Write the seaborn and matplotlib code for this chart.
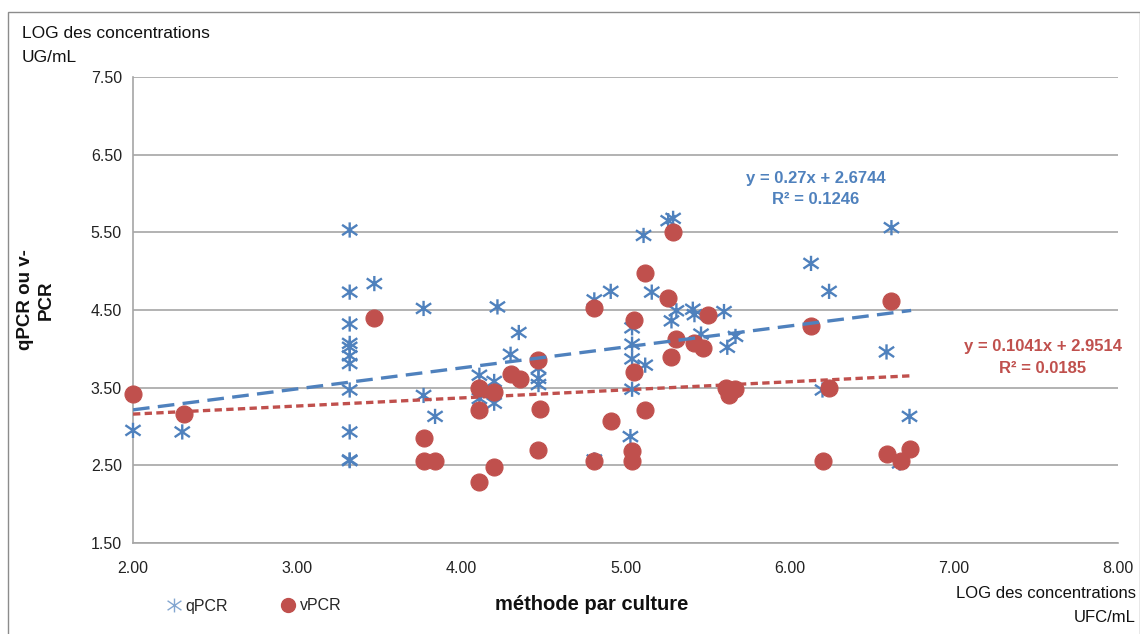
import matplotlib
matplotlib.use("Agg")
import matplotlib.pyplot as plt
import seaborn as sns
import pandas as pd
import numpy as np
from matplotlib.lines import Line2D
from matplotlib.patches import Rectangle
from matplotlib.path import Path

# ---- data ----
qpcr_x = [2.00, 2.30,
          3.32, 3.32, 3.32, 3.32, 3.32, 3.32, 3.32, 3.32, 3.32, 3.32, 3.32,
          3.47, 3.77, 3.77, 3.84, 4.11, 4.11, 4.20, 4.20, 4.22, 4.30, 4.35,
          4.47, 4.47, 4.47, 4.81, 4.81, 4.91, 5.04, 5.04, 5.04, 5.04, 5.03,
          5.12, 5.11, 5.26, 5.29, 5.16, 5.31, 5.28, 5.41, 5.42, 5.60, 5.46,
          5.62, 5.67, 6.62, 6.13, 6.24, 6.59, 6.20, 6.73, 6.67]
qpcr_y = [2.95, 2.93,
          5.53, 4.73, 4.32, 4.07, 4.02, 3.91, 3.81, 3.47, 2.93, 2.57, 2.56,
          4.84, 4.52, 3.40, 3.13, 3.66, 3.36, 3.58, 3.30, 4.54, 3.93, 4.21,
          3.75, 3.62, 3.54, 4.63, 2.57, 4.74, 4.27, 4.06, 3.87, 3.48, 2.87,
          3.79, 5.46, 5.65, 5.68, 4.73, 4.49, 4.36, 4.51, 4.44, 4.48, 4.19,
          4.02, 4.16, 5.56, 5.10, 4.74, 3.96, 3.47, 3.13, 2.53]

vpcr_x = [2.00, 2.31, 3.47, 3.77, 3.77, 3.84, 4.11, 4.11, 4.20, 4.30, 4.36,
          4.47, 4.48, 4.47, 4.11, 4.20, 4.81, 4.81, 4.91, 5.05, 5.05, 5.04,
          5.04, 5.12, 5.12, 5.29, 5.26, 5.31, 5.28, 5.50, 5.42, 5.47, 5.61,
          5.63, 5.67, 6.62, 6.13, 6.24, 6.20, 6.59, 6.68, 6.73]
vpcr_y = [3.42, 3.16, 4.40, 2.85, 2.56, 2.56, 3.50, 3.21, 3.44, 3.67, 3.61,
          3.85, 3.23, 2.70, 2.29, 2.48, 4.53, 2.56, 3.07, 4.37, 3.70, 2.68,
          2.56, 3.21, 4.97, 5.51, 4.66, 4.13, 3.89, 4.43, 4.07, 4.01, 3.50,
          3.41, 3.48, 4.62, 4.29, 3.50, 2.56, 2.65, 2.56, 2.71]

# trendline coefficients (slope, intercept) and x range
qpcr_fit = [0.27, 2.6744]
vpcr_fit = [0.1041, 2.9514]
fit_range = [2.00, 6.74]

x_ticks = [2.0, 3.0, 4.0, 5.0, 6.0, 7.0, 8.0]
y_ticks = [1.5, 2.5, 3.5, 4.5, 5.5, 6.5, 7.5]

BLUE = "#4F81BD"
RED = "#C0504D"
GRID = "#A6A6A6"

sns.set_style("white")
plt.rcParams["font.family"] = ["Liberation Sans", "DejaVu Sans"]

fig = plt.figure(figsize=(11.4, 6.34), dpi=100)
W, H = 1140, 634
ax = fig.add_axes([133 / W, 1 - 543 / H, (1118 - 133) / W, (543 - 77) / H])

# outer chart border
fig.patches.append(Rectangle((8 / W, 0 - 0.01), (W - 8) / W, 1 - 12 / H + 0.01,
                             transform=fig.transFigure, fill=False,
                             edgecolor="#8C8C8C", linewidth=1.0))

dq = pd.DataFrame({"x": qpcr_x, "y": qpcr_y})
dv = pd.DataFrame({"x": vpcr_x, "y": vpcr_y})

# Excel-like star: a wide X plus a vertical bar
dx, dy = 1.0, 0.68
star = Path([(-dx, -dy), (dx, dy), (-dx, dy), (dx, -dy), (0, -1), (0, 1)],
            [Path.MOVETO, Path.LINETO, Path.MOVETO, Path.LINETO,
             Path.MOVETO, Path.LINETO])

sns.scatterplot(data=dq, x="x", y="y", ax=ax, marker=star, s=120,
                color=BLUE, edgecolor=BLUE, facecolor="none", linewidth=1.7,
                zorder=3, legend=False)
sns.scatterplot(data=dv, x="x", y="y", ax=ax, marker="o", s=150,
                color=RED, edgecolor=RED, linewidth=0.8, zorder=4, legend=False)
for c in ax.collections:
    c.set_clip_on(False)

fx = np.array(fit_range)
sns.lineplot(x=fx, y=qpcr_fit[0] * fx + qpcr_fit[1], ax=ax, color=BLUE,
             linewidth=2.4, zorder=5, linestyle=(0, (5, 2.5)))
sns.lineplot(x=fx, y=vpcr_fit[0] * fx + vpcr_fit[1], ax=ax, color=RED,
             linewidth=2.4, zorder=5, linestyle=(0, (2.2, 1.3)))

ax.set_xlim(2.0, 8.0)
ax.set_ylim(1.5, 7.5)
ax.set_xticks(x_ticks)
ax.set_yticks(y_ticks)
ax.set_xticklabels([f"{v:.2f}" for v in x_ticks], fontsize=11.5)
ax.set_yticklabels([f"{v:.2f}" for v in y_ticks], fontsize=11.5)
ax.tick_params(axis="both", direction="out", length=5, width=1, color=GRID,
               labelcolor="#222222")
ax.tick_params(axis="x", pad=8)
ax.tick_params(axis="y", pad=3)
ax.yaxis.grid(True, color=GRID, linewidth=1.2)
ax.xaxis.grid(False)
ax.set_axisbelow(True)
for s in ["top", "right"]:
    ax.spines[s].set_visible(False)
for s in ["left", "bottom"]:
    ax.spines[s].set_color(GRID)
    ax.spines[s].set_linewidth(1.2)
ax.set_xlabel("")
ax.set_ylabel("")

# equations
ax.text(816 / W, 1 - 178 / H, "y = 0.27x + 2.6744", transform=fig.transFigure,
        color=BLUE, fontsize=12, fontweight="bold", ha="center", va="center")
ax.text(816 / W, 1 - 199 / H, "R² = 0.1246", transform=fig.transFigure,
        color=BLUE, fontsize=12, fontweight="bold", ha="center", va="center")
ax.text(1043 / W, 1 - 347 / H, "y = 0.1041x + 2.9514", transform=fig.transFigure,
        color=RED, fontsize=12, fontweight="bold", ha="center", va="center")
ax.text(1043 / W, 1 - 368 / H, "R² = 0.0185", transform=fig.transFigure,
        color=RED, fontsize=12, fontweight="bold", ha="center", va="center")

# axis titles
fig.text(22 / W, 1 - 33 / H, "LOG des concentrations", fontsize=12.5,
         ha="left", va="center", color="#111111")
fig.text(22 / W, 1 - 57 / H, "UG/mL", fontsize=12.5, ha="left", va="center",
         color="#111111")
fig.text(36 / W, 1 - 300 / H, "qPCR ou v-\nPCR", fontsize=13.5, fontweight="bold",
         rotation=90, ha="center", va="center", linespacing=1.3, color="#111111")
fig.text(592 / W, 1 - 605 / H, "méthode par culture", fontsize=14.5,
         fontweight="bold", ha="center", va="center", color="#111111")
fig.text(1136 / W, 1 - 594 / H, "LOG des concentrations", fontsize=12,
         ha="right", va="center", color="#111111")
fig.text(1136 / W, 1 - 618 / H, "UFC/mL", fontsize=12, ha="right", va="center",
         color="#111111")

# legend
handles = [
    Line2D([0], [0], marker=star, color=BLUE, linestyle="none", markersize=10,
           markeredgewidth=1.0, alpha=0.7, label="qPCR"),
    Line2D([0], [0], marker="o", color=RED, linestyle="none", markersize=10,
           label="vPCR"),
]
fig.legend(handles=handles, loc="center left", bbox_to_anchor=(150 / W, 1 - 606 / H),
           ncol=2, frameon=False, fontsize=11.5, handletextpad=0.1,
           columnspacing=3.2, handlelength=1.2)

fig.savefig("out.png", dpi=100)
